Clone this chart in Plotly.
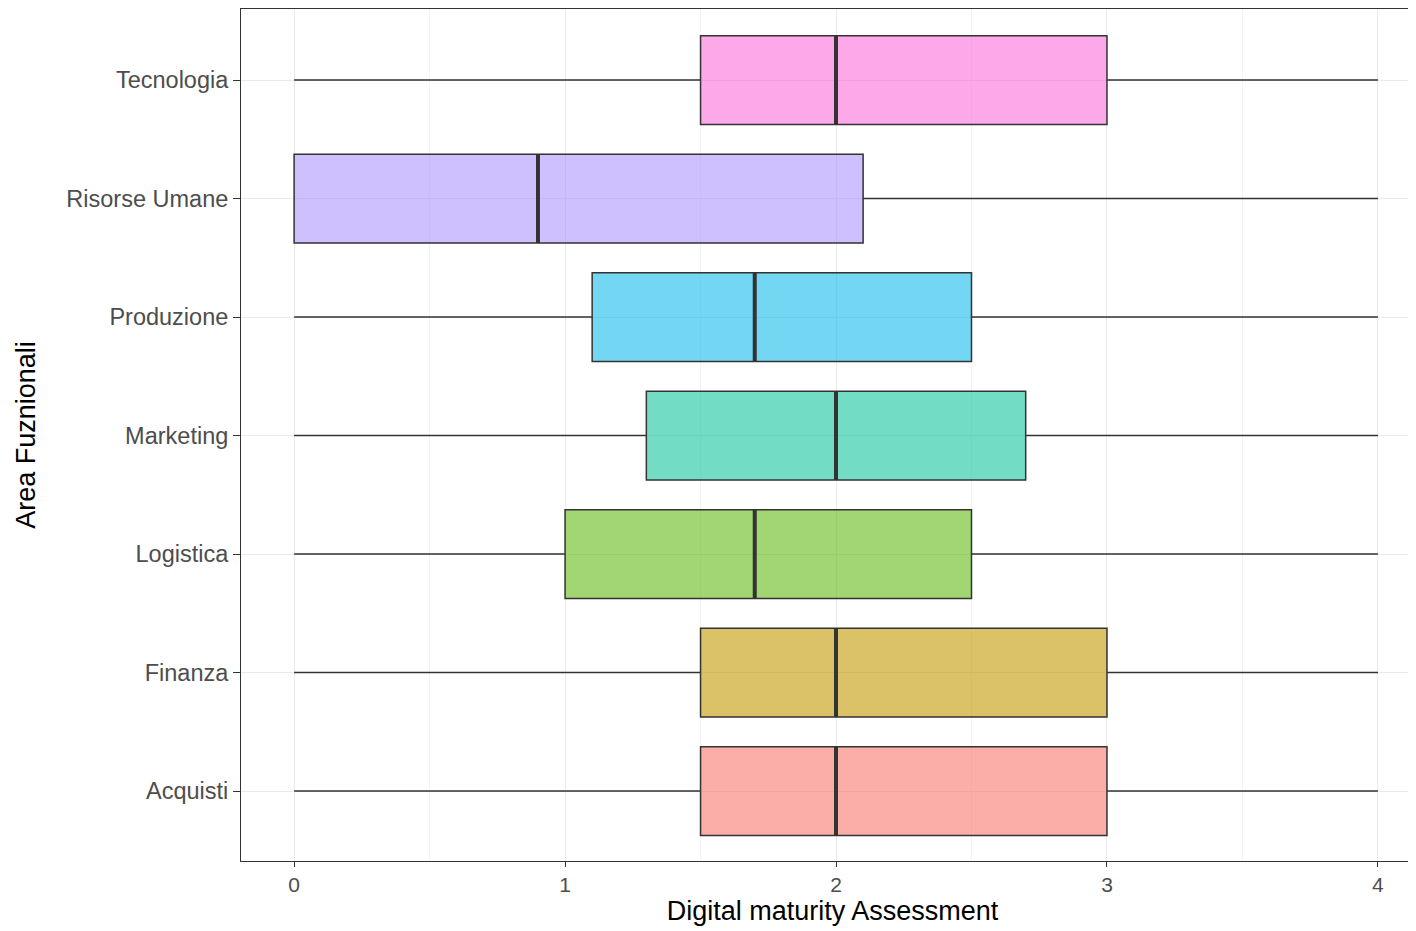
import plotly.graph_objects as go

areas = ["Acquisti", "Finanza", "Logistica", "Marketing", "Produzione", "Risorse Umane", "Tecnologia"]
q1 = [1.5, 1.5, 1.0, 1.3, 1.1, 0.0, 1.5]
median = [2.0, 2.0, 1.7, 2.0, 1.7, 0.9, 2.0]
q3 = [3.0, 3.0, 2.5, 2.7, 2.5, 2.1, 3.0]
lower = [0, 0, 0, 0, 0, 0, 0]
upper = [4, 4, 4, 4, 4, 4, 4]
colors = ["rgba(248,118,109,0.6)", "rgba(196,154,0,0.6)", "rgba(83,180,0,0.55)",
          "rgba(0,192,148,0.55)", "rgba(0,182,235,0.55)", "rgba(165,138,255,0.55)",
          "rgba(251,97,215,0.55)"]

fig = go.Figure()
for i, a in enumerate(areas):
    fig.add_trace(go.Box(
        y=[i], q1=[q1[i]], median=[median[i]], q3=[q3[i]],
        lowerfence=[lower[i]], upperfence=[upper[i]],
        orientation="h", fillcolor=colors[i],
        line=dict(color="#333333", width=1.5), whiskerwidth=0,
        width=0.75, showlegend=False, hoverinfo="skip",
    ))
    fig.add_trace(go.Scatter(
        x=[median[i], median[i]], y=[i - 0.375, i + 0.375], mode="lines",
        line=dict(color="#333333", width=4), showlegend=False, hoverinfo="skip",
    ))

fig.update_xaxes(
    range=[-0.196, 4.17], tickvals=[0, 1, 2, 3, 4], showgrid=True, gridcolor="#EBEBEB",
    minor=dict(dtick=0.5, showgrid=True, gridcolor="#F3F3F3"),
    showline=True, linecolor="#333333", mirror=True, ticks="outside", ticklen=5,
    tickcolor="#333333", zeroline=False,
    title=dict(text="Digital maturity Assessment", font=dict(size=27, color="black"), standoff=4),
    tickfont=dict(size=21, color="#4D4D4D"),
)
fig.update_yaxes(
    range=[-0.59, 6.6], tickvals=list(range(7)), ticktext=areas, showgrid=True,
    gridcolor="#EBEBEB", showline=True, linecolor="#333333", mirror=True,
    ticks="outside", ticklen=7, tickcolor="#333333", zeroline=False,
    title=dict(text="Area Fuznionali", font=dict(size=27, color="black"), standoff=22),
    tickfont=dict(size=23.5, color="#4D4D4D"),
)
fig.update_layout(
    width=1416, height=931, plot_bgcolor="white", paper_bgcolor="white",
    margin=dict(l=233, r=0, t=1, b=78),
    font=dict(family="Liberation Sans, Arial, sans-serif"),
)
fig.write_html("out.html")
